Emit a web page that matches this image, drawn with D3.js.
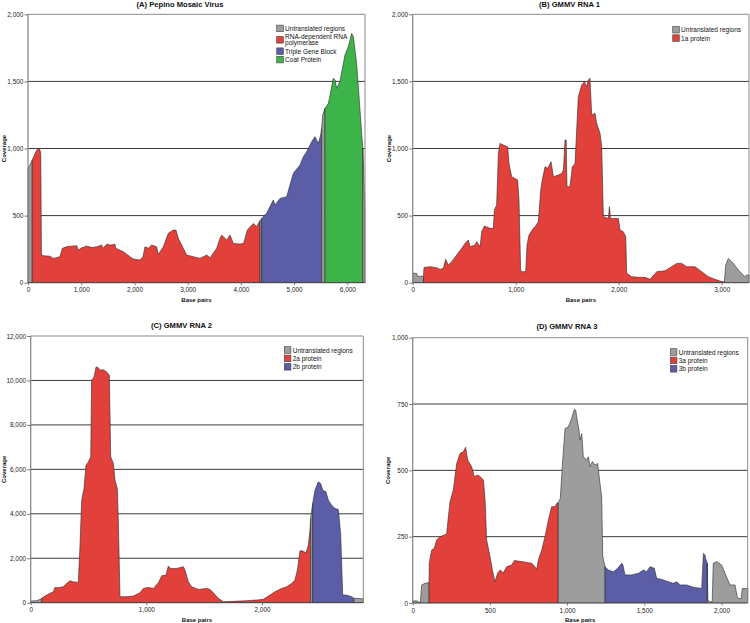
<!DOCTYPE html>
<html><head><meta charset="utf-8">
<script src="https://cdn.jsdelivr.net/npm/d3@7"></script>
<style>body{margin:0;background:#fff} svg{display:block} text{font-family:"Liberation Sans",Arial,sans-serif}</style>
</head><body><svg id="c" width="750" height="623"></svg>
<script>
// ---------- DATA ----------
const titles = ["(A) Pepino Mosaic Virus", "(B) GMMV RNA 1", "(C) GMMV RNA 2", "(D) GMMV RNA 3"];
const genomeLength = [6332, 3265, 2876, 2170];

const xTicksA = [0, 1000, 2000, 3000, 4000, 5000, 6000];
const yTicksA = [0, 500, 1000, 1500, 2000];
const xTicksB = [0, 1000, 2000, 3000];
const yTicksB = [0, 500, 1000, 1500, 2000];
const xTicksC = [0, 1000, 2000];
const yTicksC = [0, 2000, 4000, 6000, 8000, 10000, 12000];
const xTicksD = [0, 500, 1000, 1500, 2000];
const yTicksD = [0, 250, 500, 750, 1000];

const legendA = [["Untranslated regions"], ["RNA-dependent RNA", "polymerase"], ["Triple Gene Block"], ["Coat Protein"]];
const legendB = [["Untranslated regions"], ["1a protein"]];
const legendC = [["Untranslated regions"], ["2a protein"], ["2b protein"]];
const legendD = [["Untranslated regions"], ["3a protein"], ["3b protein"]];

// regions: [start bp, end bp, legend index]
const regionsA = [[0, 80, 0], [80, 4360, 1], [4360, 4390, 0], [4390, 5518, 2], [5518, 5580, 0], [5580, 6290, 3], [6290, 6332, 0]];
const regionsB = [[0, 104, 0], [104, 3026, 1], [3026, 3265, 0]];
const regionsC = [[0, 95, 0], [95, 2421, 1], [2421, 2438, 0], [2438, 2795, 2], [2795, 2876, 0]];
const regionsD = [[0, 106, 0], [106, 943, 1], [943, 1246, 0], [1246, 1908, 2], [1908, 2170, 0]];

// coverage: [bp, reads]
const coverageA = [[0,850],[40,880],[80,914],[120,950],[160,985],[190,998],[225,990],[240,960],[252,206],[300,200],[410,198],[476,181],[600,194],[645,256],[726,268],[800,272],[914,276],[946,243],[1000,258],[1102,273],[1200,262],[1290,268],[1384,281],[1410,256],[1478,286],[1550,280],[1635,286],[1650,256],[1791,231],[1916,194],[1979,176],[2104,169],[2160,194],[2198,268],[2260,256],[2323,281],[2417,268],[2449,211],[2543,268],[2637,368],[2731,392],[2781,392],[2825,330],[2918,256],[2981,206],[3106,194],[3232,181],[3357,206],[3420,186],[3545,256],[3607,330],[3639,355],[3733,318],[3795,355],[3858,293],[3983,288],[4050,293],[4121,392],[4234,442],[4296,417],[4359,462],[4390,479],[4484,517],[4609,616],[4640,579],[4735,628],[4860,641],[4985,815],[5111,877],[5173,939],[5236,976],[5330,1051],[5392,1088],[5455,1038],[5499,1100],[5518,1150],[5536,1249],[5580,1299],[5643,1336],[5670,1386],[5737,1523],[5770,1510],[5800,1448],[5860,1498],[5956,1697],[6019,1759],[6081,1858],[6113,1833],[6175,1634],[6238,1287],[6290,1000],[6310,800],[6332,520]];
const coverageB = [[0,70],[39,70],[48,45],[87,50],[104,45],[110,114],[168,119],[233,112],[265,99],[298,107],[320,174],[346,132],[379,157],[427,206],[476,256],[508,293],[540,318],[557,268],[605,281],[621,306],[654,268],[670,380],[696,422],[751,405],[783,405],[793,542],[815,579],[832,964],[848,1038],[880,1026],[922,1013],[935,889],[961,790],[993,777],[1019,765],[1032,616],[1048,94],[1061,82],[1097,82],[1110,281],[1129,355],[1171,405],[1188,417],[1220,455],[1243,690],[1259,770],[1285,864],[1311,852],[1343,902],[1366,790],[1414,802],[1447,815],[1463,840],[1479,1063],[1490,1063],[1498,715],[1527,715],[1550,864],[1576,889],[1608,1386],[1641,1473],[1667,1498],[1689,1461],[1705,1510],[1721,1523],[1738,1250],[1770,1262],[1786,1187],[1819,1113],[1835,1013],[1851,492],[1900,479],[1910,566],[1920,479],[1997,479],[2013,392],[2045,380],[2068,343],[2078,70],[2126,45],[2191,40],[2256,40],[2304,25],[2369,82],[2450,89],[2514,119],[2563,144],[2612,144],[2660,119],[2741,119],[2806,82],[2870,45],[2935,25],[2984,12],[3016,7],[3026,7],[3039,132],[3064,181],[3113,144],[3161,94],[3226,45],[3242,57],[3265,57]];
const coverageC = [[0,75],[52,90],[81,150],[95,195],[138,345],[196,494],[210,689],[240,674],[282,719],[311,869],[340,989],[363,944],[412,914],[427,2666],[441,4614],[461,5138],[478,6187],[499,6337],[519,6561],[527,10006],[548,10156],[565,10606],[585,10576],[599,10456],[628,10486],[657,10381],[680,10231],[692,6561],[715,6262],[729,5513],[749,5138],[758,3640],[772,270],[830,270],[888,300],[945,449],[974,644],[1017,689],[1061,644],[1104,899],[1133,1213],[1170,1243],[1190,1648],[1210,1543],[1262,1543],[1320,1618],[1334,1468],[1363,944],[1392,719],[1450,599],[1522,644],[1551,599],[1579,449],[1623,195],[1666,45],[1752,60],[1867,90],[1954,120],[2012,150],[2069,345],[2112,494],[2170,644],[2213,719],[2257,869],[2285,1019],[2306,1468],[2329,2337],[2345,2337],[2381,2247],[2401,2592],[2415,3266],[2421,3800],[2438,4464],[2458,5063],[2487,5438],[2507,5363],[2525,5063],[2553,4988],[2574,4614],[2602,4390],[2631,4240],[2660,4194],[2669,3715],[2680,3116],[2698,345],[2732,345],[2775,270],[2795,195],[2833,195],[2876,165]];
const coverageD = [[0,8],[30,8],[37,4],[50,4],[58,68],[80,74],[106,77],[107,150],[123,200],[140,206],[155,237],[177,250],[220,260],[231,325],[242,382],[263,426],[285,526],[307,564],[328,570],[343,587],[356,539],[382,514],[399,476],[415,482],[430,480],[458,464],[469,388],[479,237],[501,175],[516,124],[533,80],[550,112],[566,124],[587,114],[609,137],[641,143],[659,160],[706,156],[749,152],[771,150],[788,139],[803,127],[814,162],[836,200],[857,250],[879,313],[900,363],[922,363],[933,376],[943,378],[956,394],[969,514],[978,589],[987,658],[1008,664],[1030,696],[1047,730],[1056,727],[1062,702],[1077,652],[1084,614],[1095,639],[1105,551],[1127,539],[1138,551],[1149,514],[1164,533],[1181,520],[1198,526],[1213,451],[1224,401],[1231,175],[1246,137],[1267,124],[1300,118],[1328,131],[1354,150],[1362,143],[1375,106],[1418,106],[1462,112],[1494,124],[1516,118],[1537,137],[1565,131],[1580,93],[1624,87],[1656,80],[1688,74],[1710,80],[1732,68],[1775,68],[1818,59],[1872,55],[1883,187],[1893,181],[1900,162],[1908,150],[1912,10],[1926,5],[1940,5],[1947,150],[1969,156],[2001,143],[2023,112],[2055,68],[2088,68],[2103,20],[2127,15],[2135,55],[2170,55]];

// ---------- STYLE / LAYOUT ----------
const cGrey = "#9d9d9d", cRed = "#e2403a", cBlue = "#5b5da7", cGreen = "#3db44a";
const panels = [
  {title: titles[0], len: genomeLength[0], xt: xTicksA, yt: yTicksA, leg: legendA, reg: regionsA, cov: coverageA,
   colors: [cGrey, cRed, cBlue, cGreen], L: 28, T: 14.3, R: 365, B: 282.7, tx: 180, ty: 6.8, ylx: 6.2, lx: 276.7, ly: 28.7},
  {title: titles[1], len: genomeLength[1], xt: xTicksB, yt: yTicksB, leg: legendB, reg: regionsB, cov: coverageB,
   colors: [cGrey, cRed], L: 412.7, T: 14.3, R: 749, B: 282.7, tx: 569.5, ty: 6.8, ylx: 390.5, lx: 672.7, ly: 30},
  {title: titles[2], len: genomeLength[2], xt: xTicksC, yt: yTicksC, leg: legendC, reg: regionsC, cov: coverageC,
   colors: [cGrey, cRed, cBlue], L: 30.7, T: 336, R: 363.3, B: 602.7, tx: 181.5, ty: 328, ylx: 5.5, lx: 284.3, ly: 350.3},
  {title: titles[3], len: genomeLength[3], xt: xTicksD, yt: yTicksD, leg: legendD, reg: regionsD, cov: coverageD,
   colors: [cGrey, cRed, cBlue], L: 412.7, T: 337.7, R: 747.7, B: 603, tx: 567, ty: 329, ylx: 390.2, lx: 670.3, ly: 352.3}
];

const svg = d3.select("#c");
const fmt = d3.format(",");
const bis = d3.bisector(d => d[0]).left;

function interp(cov, x) {
  let i = bis(cov, x);
  if (i <= 0) return cov[0][1];
  if (i >= cov.length) return cov[cov.length - 1][1];
  const a = cov[i - 1], b = cov[i];
  if (b[0] === x) return b[1];
  return a[1] + (b[1] - a[1]) * (x - a[0]) / (b[0] - a[0]);
}

panels.forEach(p => {
  const g = svg.append("g");
  const x = d3.scaleLinear().domain([0, p.len]).range([p.L, p.R]);
  const yMax = p.yt[p.yt.length - 1];
  const y = d3.scaleLinear().domain([0, yMax]).range([p.B, p.T]);

  // gridlines (behind areas)
  g.selectAll("line.grid").data(p.yt.filter(v => v > 0 && v < yMax)).join("line")
    .attr("x1", p.L).attr("x2", p.R).attr("y1", d => y(d)).attr("y2", d => y(d))
    .attr("stroke", "#3a3a3a").attr("stroke-width", 1);

  // areas per region
  const line = d3.line().x(d => x(d[0])).y(d => y(d[1]));
  p.reg.forEach(([s, e, k]) => {
    const inner = p.cov.filter(d => d[0] > s && d[0] < e);
    const pts = [[s, 0], [s, interp(p.cov, s)], ...inner, [e, interp(p.cov, e)], [e, 0]];
    g.append("path").attr("d", line(pts) + "Z").attr("fill", p.colors[k]).attr("stroke", "none");
    g.append("path").attr("d", line(pts)).attr("fill", "none")
      .attr("stroke", "#2a2a2a").attr("stroke-width", 0.6).attr("stroke-linejoin", "round");
  });

  // frame
  g.append("line").attr("x1", p.L).attr("x2", p.R).attr("y1", p.T).attr("y2", p.T).attr("stroke", "#8a8a8a").attr("stroke-width", 1);
  g.append("line").attr("x1", p.R).attr("x2", p.R).attr("y1", p.T).attr("y2", p.B).attr("stroke", "#8a8a8a").attr("stroke-width", 1);
  g.append("line").attr("x1", p.L).attr("x2", p.L).attr("y1", p.T).attr("y2", p.B).attr("stroke", "#8a8a8a").attr("stroke-width", 1.3);
  g.append("line").attr("x1", p.L).attr("x2", p.R).attr("y1", p.B).attr("y2", p.B).attr("stroke", "#3a3a3a").attr("stroke-width", 1);

  // axes
  const ya = g.append("g").attr("transform", `translate(${p.L},0)`)
    .call(d3.axisLeft(y).tickValues(p.yt).tickFormat(fmt).tickSize(3.5).tickPadding(1.2));
  const xa = g.append("g").attr("transform", `translate(0,${p.B})`)
    .call(d3.axisBottom(x).tickValues(p.xt).tickFormat(fmt).tickSize(2.5).tickPadding(2.5));
  [ya, xa].forEach(a => {
    a.select(".domain").remove();
    a.selectAll(".tick line").attr("stroke", "#777");
    a.selectAll(".tick text").attr("font-size", 6.4).attr("fill", "#222")
      .attr("font-family", '"Liberation Sans",Arial,sans-serif');
  });

  // title & labels
  g.append("text").attr("x", p.tx).attr("y", p.ty).attr("text-anchor", "middle")
    .attr("font-size", 7.6).attr("font-weight", "bold").attr("fill", "#111").text(p.title);
  g.append("text").attr("x", (p.L + p.R) / 2).attr("y", p.B + 18.8).attr("text-anchor", "middle")
    .attr("font-size", 6).attr("font-weight", "bold").attr("fill", "#111").text("Base pairs");
  g.append("text").attr("transform", `translate(${p.ylx},${(p.T + p.B) / 2}) rotate(-90)`).attr("text-anchor", "middle")
    .attr("font-size", 6).attr("font-weight", "bold").attr("fill", "#111").text("Coverage");

  // legend
  let cy = p.ly;
  p.leg.forEach((lines, i) => {
    const h = (lines.length - 1) * 6;
    const mid = cy + h / 2;
    g.append("rect").attr("x", p.lx).attr("y", mid - 3.6).attr("width", 6.6).attr("height", 6.6)
      .attr("fill", p.colors[i]).attr("stroke", "#444").attr("stroke-width", 0.6);
    lines.forEach((t, j) => {
      g.append("text").attr("x", p.lx + 8.4).attr("y", cy + j * 6 + 2.2)
        .attr("font-size", 6.5).attr("fill", "#111").text(t);
    });
    cy += h + 8.4;
  });
});
</script></body></html>
